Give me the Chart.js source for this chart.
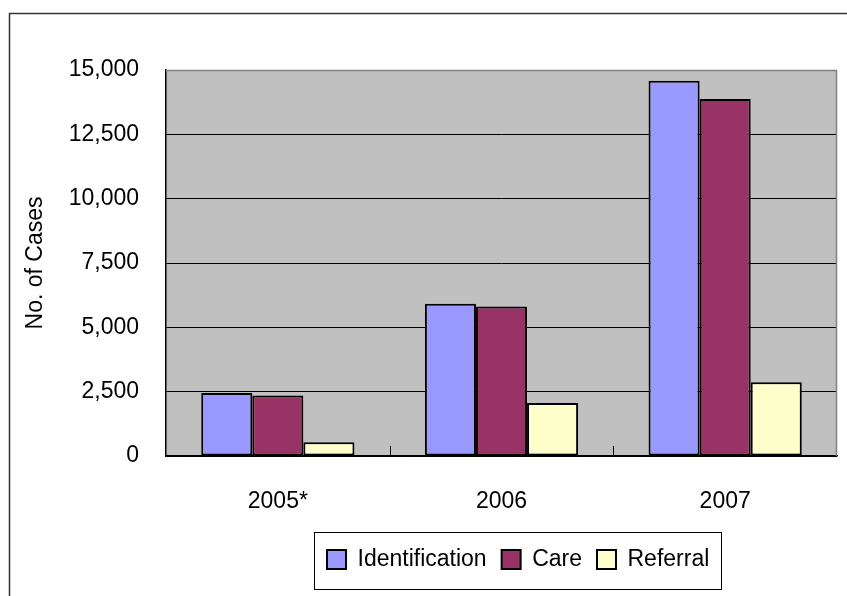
<!DOCTYPE html>
<html>
<head>
<meta charset="utf-8">
<script src="https://cdn.jsdelivr.net/npm/chart.js@4/dist/chart.umd.min.js"></script>
<style>
  html, body { margin: 0; padding: 0; background: #ffffff; }
  #wrap { position: relative; width: 847px; height: 596px; }
</style>
</head>
<body>
<div id="wrap"><canvas id="c" width="847" height="596"></canvas></div>
<script>
const categories = ['2005*', '2006', '2007'];
const identification = [2450, 5920, 14580];
const care = [2350, 5810, 13870];
const referral = [530, 2060, 2870];
const yTicks = [0, 2500, 5000, 7500, 10000, 12500, 15000];
const yTitle = 'No. of Cases';

const FONT = "'Liberation Sans', Arial, sans-serif";
const FS = 23;

const decor = {
  id: 'decor',
  afterLayout(chart) {
    const lg = chart.legend;
    if (lg) {
      const w = lg.right - lg.left;
      lg.left = 312;
      lg.right = lg.left + w;
    }
  },
  beforeDraw(chart) {
    const ctx = chart.ctx;
    const a = chart.chartArea;
    ctx.save();
    ctx.fillStyle = '#ffffff';
    ctx.fillRect(0, 0, chart.width, chart.height);
    ctx.strokeStyle = '#333333';
    ctx.lineWidth = 1.5;
    ctx.beginPath();
    ctx.moveTo(9.5, chart.height + 2);
    ctx.lineTo(9.5, 13.5);
    ctx.lineTo(chart.width + 2, 13.5);
    ctx.stroke();
    ctx.fillStyle = '#C0C0C0';
    ctx.fillRect(a.left, a.top, a.right - a.left, a.bottom - a.top);
    ctx.restore();
  },
  afterDatasetsDraw(chart) {
    const ctx = chart.ctx;
    const a = chart.chartArea;
    const xs = chart.scales.x;
    ctx.save();
    ctx.strokeStyle = '#808080';
    ctx.lineWidth = 1.5;
    ctx.beginPath();
    ctx.moveTo(a.left, a.top + 0.5);
    ctx.lineTo(a.right - 0.5, a.top + 0.5);
    ctx.lineTo(a.right - 0.5, a.bottom);
    ctx.stroke();
    ctx.strokeStyle = '#000000';
    ctx.lineWidth = 1;
    for (let i = 0; i < categories.length - 1; i++) {
      const x = Math.round((xs.getPixelForValue(i) + xs.getPixelForValue(i + 1)) / 2) + 0.5;
      ctx.beginPath();
      ctx.moveTo(x, a.bottom);
      ctx.lineTo(x, a.bottom - 10);
      ctx.stroke();
    }
    ctx.restore();
  },
  afterDraw(chart) {
    const ctx = chart.ctx;
    ctx.save();
    ctx.strokeStyle = '#000000';
    ctx.lineWidth = 1;
    ctx.strokeRect(314.5, 532.5, 407, 57);
    ctx.restore();
  }
};

new Chart(document.getElementById('c'), {
  type: 'bar',
  data: {
    labels: categories,
    datasets: [
      { label: 'Identification', data: identification, backgroundColor: '#9999FF', borderColor: '#000000', borderWidth: 2, borderSkipped: false },
      { label: 'Care', data: care, backgroundColor: '#993366', borderColor: '#000000', borderWidth: 2, borderSkipped: false },
      { label: 'Referral', data: referral, backgroundColor: '#FFFFCC', borderColor: '#000000', borderWidth: 2, borderSkipped: false }
    ]
  },
  options: {
    responsive: false,
    animation: false,
    devicePixelRatio: 1,
    layout: { padding: { left: 0, right: 10, top: 70, bottom: 15 } },
    datasets: { bar: { categoryPercentage: 0.685, barPercentage: 1.0 } },
    plugins: {
      tooltip: { enabled: false },
      legend: {
        position: 'bottom',
        align: 'start',
        labels: {
          font: { family: FONT, size: FS },
          color: '#000000',
          boxWidth: 19,
          boxHeight: 19,
          padding: 15
        }
      }
    },
    scales: {
      x: {
        grid: { display: false, drawTicks: false },
        border: { display: true, color: '#000000', width: 1.5 },
        ticks: { font: { family: FONT, size: FS }, color: '#000000', padding: 32, maxRotation: 0 },
        afterFit(scale) { scale.height = 77; }
      },
      y: {
        min: 0,
        max: 15000,
        afterBuildTicks(scale) { scale.ticks = yTicks.map(v => ({ value: v })); },
        grid: { color: '#000000', lineWidth: 1, drawTicks: false },
        border: { display: true, color: '#000000', width: 1.5 },
        ticks: {
          font: { family: FONT, size: FS },
          color: '#000000',
          padding: 27,
          callback: v => v.toLocaleString('en-US')
        },
        title: {
          display: true,
          text: yTitle,
          font: { family: FONT, size: FS },
          color: '#000000',
          padding: { top: 22, bottom: 0 }
        },
        afterFit(scale) { scale.width = 166; }
      }
    }
  },
  plugins: [decor]
});
</script>
</body>
</html>
